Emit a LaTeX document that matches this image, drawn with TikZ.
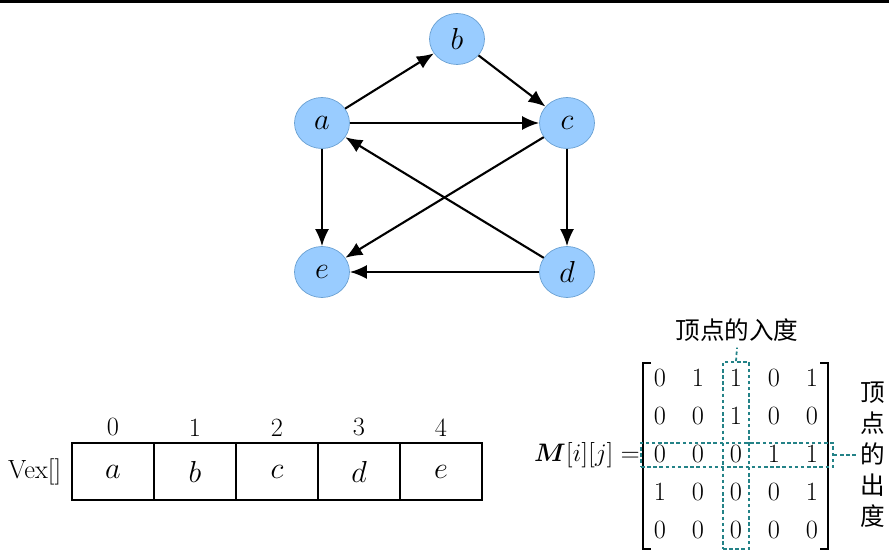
\documentclass[tikz,border=0pt]{standalone}
\usepackage{fontspec}
\usepackage{amsmath}
\usepackage{bm}
\newfontfamily\cjk{Noto Sans CJK SC}
\usepackage{tikz}
\usetikzlibrary{shapes.geometric, arrows.meta, positioning}
\definecolor{vexblue}{RGB}{153,204,255}
\definecolor{vexedge}{RGB}{105,160,210}
\definecolor{dashteal}{RGB}{35,130,135}

\begin{document}
\begin{tikzpicture}[x=0.02cm, y=-0.02cm]
    \tikzset{
        vertex/.style={
                ellipse, draw=vexedge, fill=vexblue, thin,
                minimum width=1.1cm, minimum height=1.02cm, inner sep=0pt,
                font=\fontsize{17pt}{19pt}\selectfont
            },
        arc edge/.style={
                -{Latex[length=0.34cm, width=0.28cm]}, line width=1.2pt
            },
        cell/.style={
                draw, line width=0.8pt, minimum width=1.64cm, minimum height=1.14cm,
                inner sep=0pt, font=\fontsize{17pt}{19pt}\selectfont
            },
        index/.style={font=\fontsize{15pt}{17pt}\selectfont},
        entry/.style={font=\fontsize{15pt}{17pt}\selectfont, inner sep=1pt},
        bracket/.style={line width=0.8pt},
        hilite/.style={
                draw=dashteal, line width=1pt, dash pattern=on 2pt off 1.5pt, inner sep=0pt
            },
        link/.style={draw=dashteal, line width=1pt, dash pattern=on 2pt off 1.5pt},
        cjk label/.style={font=\cjk\fontsize{14pt}{17.6pt}\selectfont}
    }

    \useasboundingbox (0,0) rectangle (889,560);
    % cut-off strip at the top
    \fill[black] (0,0) rectangle (889,3);

    % directed graph
    \node[vertex] (b) at (457,39) {$b$};
    \node[vertex] (a) at (322,123) {$a$};
    \node[vertex] (c) at (567,123) {$c$};
    \node[vertex] (e) at (322,272) {$e$};
    \node[vertex] (d) at (567,272) {$d$};

    \draw[arc edge] (a) -- (b);
    \draw[arc edge] (b) -- (c);
    \draw[arc edge] (a) -- (c);
    \draw[arc edge] (a) -- (e);
    \draw[arc edge] (c) -- (e);
    \draw[arc edge] (c) -- (d);
    \draw[arc edge] (d) -- (a);
    \draw[arc edge] (d) -- (e);

    % vertex array
    \foreach \v [count=\i from 0] in {a,b,c,d,e} {
            \node[cell] (v\i) at (113+82*\i,471.5) {$\v$};
            \node[index, above=0pt of v\i] (n\i) {\i};
        }
    \node[index, left=0.08cm of v0] (vexlabel) {Vex[]};

    % adjacency matrix
    \foreach \row [count=\r from 0] in {{0,1,1,0,1},{0,0,1,0,0},{0,0,0,1,1},{1,0,0,0,1},{0,0,0,0,0}} {
            \foreach \val [count=\c from 0] in \row {
                    \node[entry] (m\r\c) at (660+38*\c,378+38*\r) {\val};
                }
        }
    \draw[bracket] (651,363) -| (643,549) -- (651,549);
    \draw[bracket] (820,363) -| (828,549) -- (820,549);
    \node[index, anchor=east, inner sep=1pt] (mlabel) at (642,455) {$\bm{M}[i][j]=$};

    % in-degree column and out-degree row
    \node[hilite, minimum width=0.52cm, minimum height=3.74cm] (colbox) at (736,455.5) {};
    \node[hilite, minimum width=3.84cm, minimum height=0.48cm] (rowbox) at (737,455) {};
    \node[cjk label] (indeg) at (737,330) {顶点的入度};
    \node[cjk label, align=center, inner sep=2pt] (outdeg) at (873,455) {顶\\点\\的\\出\\度};
    \draw[link] (colbox.north) -- (indeg.south);
    \draw[link] (rowbox.east) -- (outdeg.west);
\end{tikzpicture}
\end{document}
